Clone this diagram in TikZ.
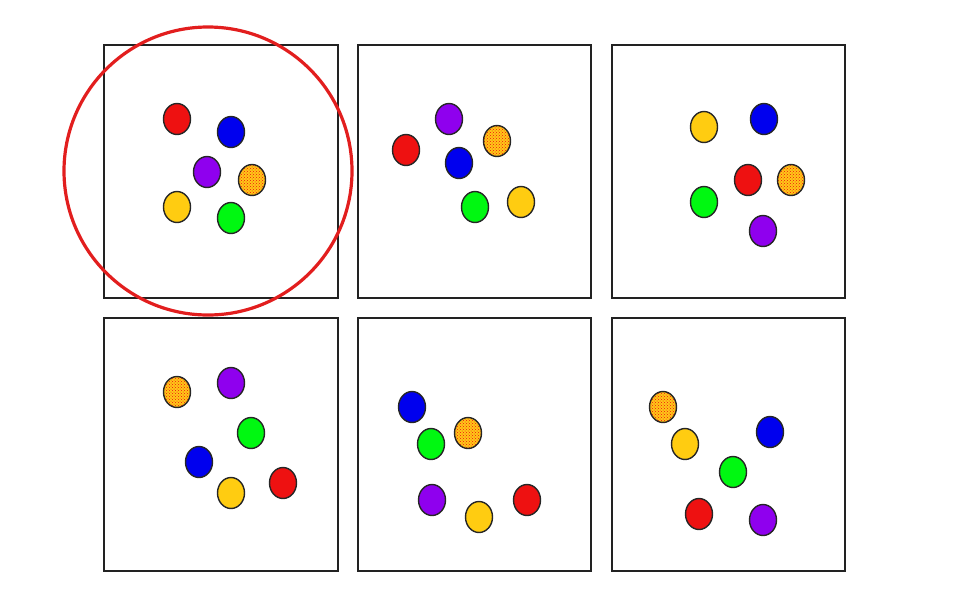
\documentclass[tikz,border=0pt]{standalone}
\usetikzlibrary{shapes.geometric,patterns}
\definecolor{cred}{HTML}{EE1111}
\definecolor{cblue}{HTML}{0000EE}
\definecolor{cpurple}{HTML}{8F00EE}
\definecolor{cyellow}{HTML}{FFCC11}
\definecolor{cgreen}{HTML}{00F811}
\definecolor{corange}{HTML}{FFC818}
\definecolor{cframe}{HTML}{222222}
\definecolor{cring}{HTML}{E21E1E}
\tikzset{
  panel/.style={draw=cframe, line width=2.2pt},
  dot/.style={ellipse, draw=black!85, line width=1.4pt, minimum width=27pt, minimum height=31pt, inner sep=0pt},
  rdot/.style={dot, fill=cred},
  bdot/.style={dot, fill=cblue},
  pdot/.style={dot, fill=cpurple},
  ydot/.style={dot, fill=cyellow},
  gdot/.style={dot, fill=cgreen},
  odot/.style={dot, preaction={fill=corange}, pattern=crosshatch dots, pattern color=cred},
}
\begin{document}
\begin{tikzpicture}[x=1pt,y=-1pt]
\useasboundingbox (0,0) rectangle (971,590);
% panels
\draw[panel] (104,45) rectangle (338,298);
\draw[panel] (358,45) rectangle (591,298);
\draw[panel] (612,45) rectangle (845,298);
\draw[panel] (104,318) rectangle (338,571);
\draw[panel] (358,318) rectangle (591,571);
\draw[panel] (612,318) rectangle (845,571);
% panel 1
\node[rdot] (r1) at (177,119) {};
\node[bdot] (b1) at (231,132) {};
\node[pdot] (p1) at (207,172) {};
\node[odot] (o1) at (252,180) {};
\node[ydot] (y1) at (177,207) {};
\node[gdot] (g1) at (231,218) {};
% panel 2
\node[pdot] (p2) at (449,119) {};
\node[rdot] (r2) at (406,150) {};
\node[odot] (o2) at (497,141) {};
\node[bdot] (b2) at (459,163) {};
\node[gdot] (g2) at (475,207) {};
\node[ydot] (y2) at (521,202) {};
% panel 3
\node[ydot] (y3) at (704,127) {};
\node[bdot] (b3) at (764,119) {};
\node[rdot] (r3) at (748,180) {};
\node[odot] (o3) at (791,180) {};
\node[gdot] (g3) at (704,202) {};
\node[pdot] (p3) at (763,231) {};
% panel 4
\node[odot] (o4) at (177,392) {};
\node[pdot] (p4) at (231,383) {};
\node[gdot] (g4) at (251,433) {};
\node[bdot] (b4) at (199,462) {};
\node[ydot] (y4) at (231,493) {};
\node[rdot] (r4) at (283,483) {};
% panel 5
\node[bdot] (b5) at (412,407) {};
\node[gdot] (g5) at (431,444) {};
\node[odot] (o5) at (468,433) {};
\node[pdot] (p5) at (432,500) {};
\node[ydot] (y5) at (479,517) {};
\node[rdot] (r5) at (527,500) {};
% panel 6
\node[odot] (o6) at (663,407) {};
\node[ydot] (y6) at (685,444) {};
\node[bdot] (b6) at (770,432) {};
\node[gdot] (g6) at (733,472) {};
\node[rdot] (r6) at (699,514) {};
\node[pdot] (p6) at (763,520) {};
% highlight ring
\draw[cring, line width=3.2pt] (208,171) circle[radius=144];
\end{tikzpicture}
\end{document}
